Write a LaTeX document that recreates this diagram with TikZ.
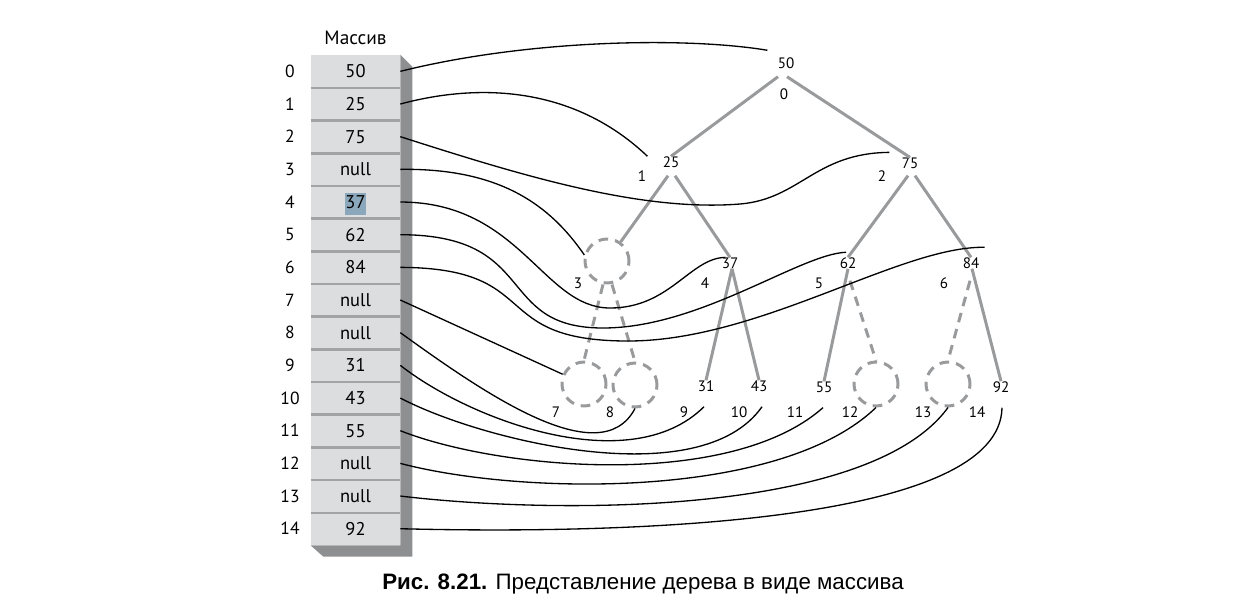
\documentclass[tikz,border=0pt]{standalone}
\usepackage{fontspec}
\setmainfont{PT Sans}
\newfontfamily\capfont{Liberation Sans}
\usetikzlibrary{positioning}
\definecolor{cellfill}{HTML}{DCDDDE}
\definecolor{cellsep}{HTML}{A2A3A5}
\definecolor{cellside}{HTML}{8E8F91}
\definecolor{treegray}{HTML}{999A9C}
\definecolor{hlblue}{HTML}{8BA7BC}
\newcommand{\hlnum}[1]{{\setlength{\fboxsep}{0pt}\colorbox{hlblue}{\strut #1}}}
\begin{document}
\begin{tikzpicture}[x=0.02cm,y=-0.02cm,line join=round]
\tikzset{cell/.style={fill=cellfill,minimum width=1.78cm,minimum height=0.6534cm,inner sep=0pt,text height=7.4pt,text depth=0pt,font=\fontsize{10.5}{12.6}\selectfont},
sep/.style={draw=cellsep,line width=1.4pt},
side/.style={fill=cellside},
aidx/.style={inner sep=0pt,font=\fontsize{10}{12}\selectfont},
val/.style={inner sep=0pt,text depth=0pt,font=\fontsize{8.6}{10}\selectfont},
idx/.style={inner sep=0pt,text depth=0pt,font=\fontsize{8.6}{10}\selectfont},
hole/.style={circle,draw=treegray,line width=1.7pt,dash pattern=on 5.5pt off 4pt,minimum size=0.88cm,inner sep=0pt},
edge/.style={draw=treegray,line width=1.7pt},
hedge/.style={edge,dash pattern=on 5.5pt off 4pt},
link/.style={draw=black,line width=0.75pt}}
\useasboundingbox (0,0) rectangle (1247,613);
% array
\foreach \v [count=\i from 0] in {50,25,75,null,\hlnum{37},62,84,null,null,31,43,55,null,null,92}
{
\node[cell] (c\i) at (355.5,{55+32.67*(\i+0.5)}) {\v};
\node[aidx] (a\i) at ([shift={(-65.5,0)}]c\i) {\i};
}
\foreach \i in {0,...,13}
\draw[sep] (c\i.south west) -- (c\i.south east);
\fill[side] (c0.north east) -- ++(12,12) -- ++(0,490) -- ++(-89,0) -- (c14.south west) -- (c14.south east) -- cycle;
\node[font=\fontsize{11}{13}\selectfont,inner sep=0pt,above=0.2cm of c0] (head) {Массив};
% tree
\foreach \k/\x/\y/\v in {0/786/63/50,1/671/162/25,2/910/163/75,4/730/263/37,5/848/263/62,6/971/263/84,9/706/386/31,10/759/386/43,11/824/387/55,14/1001/387/92}
\node[val] (n\k) at (\x,\y) {\v};
\foreach \k/\x/\y in {3/607/261,7/584/384,8/635/385,12/876/384,13/948/384}
\node[hole] (n\k) at (\x,\y) {};
\foreach \k/\x/\y in {0/784/94,1/642/176,2/882/176,3/578/283,4/705/283,5/819/283,6/944/283,7/556/412,8/610/412,9/684/412,10/739/412,11/795/412,12/850/412,13/923/412,14/977/412}
\node[idx] (i\k) at (\x,\y) {\k};
\draw[edge] (n0.south) ++(-8,8) -- (n1.north);
\draw[edge] (n0.south) ++(1,8) -- (n2.north);
\draw[edge] (n1.south) ++(-3,8) -- (n3);
\draw[edge] (n1.south) ++(4,8) -- (n4.north);
\draw[edge] (n2.south) ++(-2,7) -- (n5.north);
\draw[edge] (n2.south) ++(5,7) -- (n6.north);
\draw[hedge] (n3.south) ++(-4,0) -- (n7.north);
\draw[hedge] (n3.south) ++(5,0) -- (n8.north);
\draw[edge] (n4.south) ++(2,0) -- (n9.north);
\draw[edge] (n4.south) ++(2,0) -- (n10.north);
\draw[edge] (n5.south) -- (n11.north);
\draw[hedge] (n5.south) ++(2,12) -- (n12.north);
\draw[hedge] (n6.south) ++(-1,12) -- (n13.north);
\draw[edge] (n6.south) ++(1,0) -- (n14.north);
% links from the array to the tree
\draw[link] (c0.east) .. controls (530,39) and (688,37) .. ([shift={(-10,-7)}]n0.north west);
\draw[link] (c1.east) .. controls (490,80) and (580,92) .. ([shift={(-15,0)}]n1.north west);
\draw[link] (c2.east) .. controls (520,175) and (640,212) .. (740,204) .. controls (800,199) and (815,153) .. ([shift={(-12,-5)}]n2.north west);
\draw[link] (c3.east) .. controls (500,168) and (550,205) .. (n3.165);
\draw[link] (c4.east) .. controls (520,202) and (543,308) .. (610,308) .. controls (670,308) and (690,258) .. ([shift={(4,0)}]n4.north west);
\draw[link] (c5.east) .. controls (540,235) and (494,328) .. (603,328) .. controls (700,328) and (800,254) .. ([shift={(-2,-5)}]n5.north);
\draw[link] (c6.east) .. controls (545,268) and (486,341) .. (628,341) .. controls (760,341) and (900,246) .. ([shift={(5,-10)}]n6.north east);
\draw[link] (c7.east) -- (n7);
\draw[link] (c8.east) .. controls (480,390) and (600,475) .. (n8.south);
\draw[link] (c9.east) .. controls (470,420) and (630,480) .. ([shift={(-2,15)}]n9.south);
\draw[link] (c10.east) .. controls (480,440) and (700,495) .. ([shift={(3,15)}]n10.south);
\draw[link] (c11.east) .. controls (500,470) and (730,490) .. ([shift={(-1,15)}]n11.south);
\draw[link] (c12.east) .. controls (520,495) and (780,500) .. (n12.south);
\draw[link] (c13.east) .. controls (560,515) and (870,515) .. (n13.south);
\draw[link] (c14.east) .. controls (650,535) and (1000,520) .. ([shift={(1,15)}]n14.south);
% caption
\node[font=\capfont\fontsize{12.7}{15}\selectfont,inner sep=0pt] (cap) at (643,584) {\textbf{Рис. 8.21.} Представление дерева в виде массива};
\end{tikzpicture}
\end{document}
